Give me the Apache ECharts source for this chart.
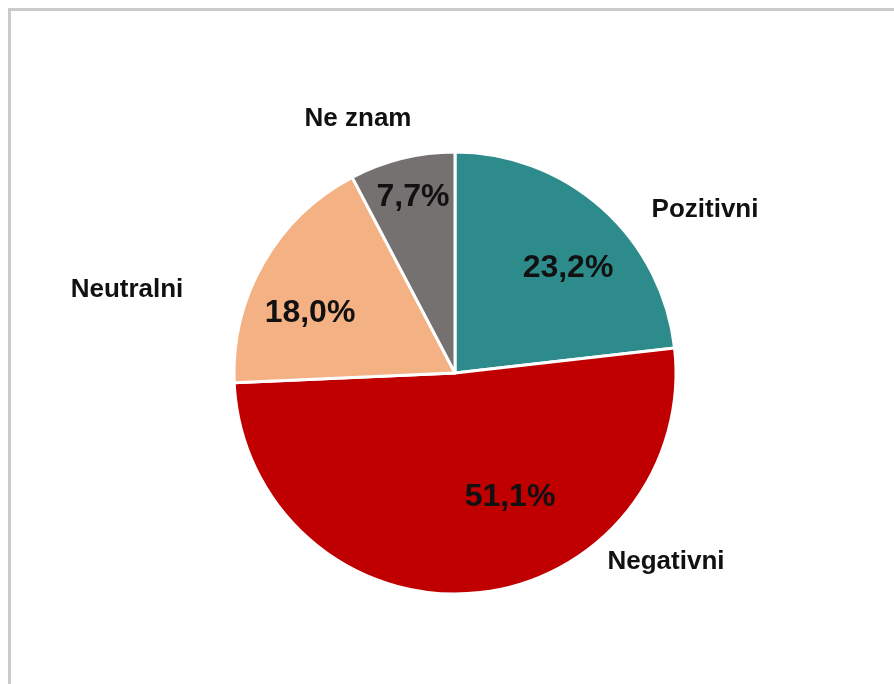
<!DOCTYPE html>
<html>
<head>
<meta charset="utf-8">
<script src="https://cdn.jsdelivr.net/npm/echarts@6/dist/echarts.min.js"></script>
<style>
  html, body { margin: 0; padding: 0; background: #fff; }
  #frame { position: absolute; left: 8px; top: 8px; width: 1000px; height: 800px; border: 3px solid #cbcbcb; }
  #main { position: absolute; left: 0; top: 0; width: 894px; height: 684px; }
</style>
</head>
<body>
<div id="frame"></div>
<div id="main"></div>
<script>
var categories = ['Pozitivni', 'Negativni', 'Neutralni', 'Ne znam'];
var shares = [23.2, 51.1, 18.0, 7.7];
var colors = ['#2E8B8B', '#C00000', '#F4B183', '#767171'];

// label spots, picked to sit where the original put them
var valueSpots = [[568, 268], [510, 497], [310, 313], [413, 197]];
var nameSpots = [[705, 210], [666, 562], [127, 290], [358, 119]];

var pieData = categories.map(function (name, i) {
    return { name: name, value: shares[i], itemStyle: { color: colors[i] } };
});

var myChart = echarts.init(document.getElementById('main'));
var option = {
    animation: false,
    textStyle: { fontFamily: 'Liberation Sans, Arial, sans-serif' },
    series: [
        {
            type: 'pie',
            center: [455, 373],
            radius: 221,
            startAngle: 90,
            clockwise: true,
            silent: true,
            itemStyle: { borderColor: '#ffffff', borderWidth: 3 },
            label: {
                position: 'inside',
                color: '#111',
                fontWeight: 'bold',
                fontSize: 32,
                formatter: function (p) { return p.value.toFixed(1).replace('.', ',') + '%'; }
            },
            labelLine: { show: false },
            labelLayout: function (p) {
                var s = valueSpots[p.dataIndex];
                return { x: s[0], y: s[1], align: 'center', verticalAlign: 'middle' };
            },
            data: pieData
        },
        {
            type: 'pie',
            center: [455, 373],
            radius: 221,
            startAngle: 90,
            clockwise: true,
            silent: true,
            z: 1,
            itemStyle: { color: 'transparent', borderWidth: 0 },
            label: {
                position: 'outside',
                color: '#111',
                fontWeight: 'bold',
                fontSize: 26,
                formatter: '{b}'
            },
            labelLine: { show: false },
            labelLayout: function (p) {
                var s = nameSpots[p.dataIndex];
                return { x: s[0], y: s[1], align: 'center', verticalAlign: 'middle' };
            },
            data: categories.map(function (name, i) {
                return { name: name, value: shares[i], itemStyle: { color: 'transparent' } };
            })
        }
    ]
};

myChart.setOption(option);
</script>
</body>
</html>
